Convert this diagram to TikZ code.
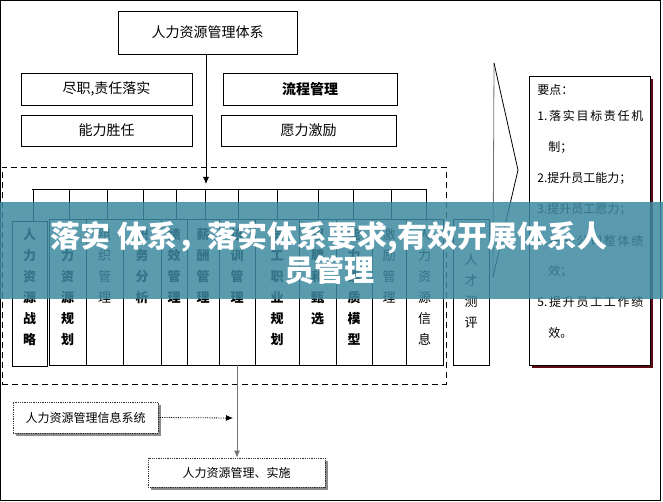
\documentclass[tikz,border=0pt]{standalone}
\usepackage{fontspec}
\setmainfont{Noto Sans CJK SC}
\usetikzlibrary{arrows.meta,shadows}
\definecolor{bannerc}{RGB}{62,137,160}
\definecolor{shadowred}{RGB}{95,10,20}
\newcommand\hrcol[7]{%
  \node[colbox, minimum width={(#3-#2)*1pt}, minimum height={(#5-#4)*1pt}] (#1) at ({(#2+#3)/2},{(#4+#5)/2}) {};
  \node[coltext,#7] (#1t) at ({(#2+#3)/2},228) {#6};}
\begin{document}
\begin{tikzpicture}[x=1pt,y=-1pt,line width=0.8pt,
  box/.style={draw, inner sep=0pt, font=\fontsize{14}{16}\selectfont},
  colbox/.style={draw, inner sep=0pt},
  coltext/.style={anchor=north, inner sep=0pt, align=center, font=\fontsize{13}{21}\selectfont},
  boldcol/.style={font=\bfseries\fontsize{13}{21}\selectfont},
  plaincol/.style={},
  dotbox/.style={draw=black!80, densely dotted, fill=white, inner sep=0pt, font=\fontsize{12}{14}\selectfont,
     drop shadow={shadow xshift=3pt, shadow yshift=-3pt, fill=black!45, opacity=1}},
  kptext/.style={anchor=west, inner sep=0pt, font=\fontsize{12}{14}\selectfont},
  arr/.style={-{Latex[length=7pt,width=6pt]}}]
\useasboundingbox (0,0) rectangle (663,502);
\draw (0.5,0.5) rectangle (660,500);
% top boxes
\node[box, minimum width=179pt, minimum height=43pt] (top) at (207.5,32.5) {人力资源管理体系};
\node[box, minimum width=171pt, minimum height=32pt] (b1) at (106.5,89) {尽职,责任落实};
\node[box, minimum width=171pt, minimum height=31pt] (b2) at (106.5,130.5) {能力胜任};
\node[box, minimum width=174pt, minimum height=32pt, font=\bfseries\fontsize{14}{16}\selectfont] (b3) at (310,89) {流程管理};
\node[box, minimum width=175pt, minimum height=31pt] (b4) at (308.5,130.5) {愿力激励};
% dashed frame
\node[draw, dash pattern=on 6pt off 4pt, minimum width=444pt, minimum height=217pt, inner sep=0pt] (frame) at (224,275.5) {};
% columns
\hrcol{c1}{12}{47}{221}{366}{人\\力\\资\\源\\战\\略}{boldcol}
\hrcol{c2}{49}{86}{219}{365}{人\\力\\资\\源\\规\\划}{boldcol}
\hrcol{c3}{86}{123}{219}{365}{组\\织\\管\\理}{plaincol}
\hrcol{c4}{123}{161}{219}{365}{职\\务\\分\\析}{boldcol}
\hrcol{c5}{161}{187}{219}{365}{绩\\效\\管\\理}{boldcol}
\hrcol{c6}{187}{219}{219}{365}{薪\\酬\\管\\理}{boldcol}
\hrcol{c7}{219}{255}{219}{365}{培\\训\\管\\理}{boldcol}
\hrcol{c8}{255}{299}{219}{365}{员\\工\\职\\业\\规\\划}{boldcol}
\hrcol{c9}{299}{336}{219}{365}{招\\聘\\和\\甄\\选}{boldcol}
\hrcol{c10}{336}{372}{219}{365}{能\\力\\素\\质\\模\\型}{boldcol}
\hrcol{c11}{372}{406}{219}{365}{激\\励\\管\\理}{plaincol}
\hrcol{c12}{406}{443}{219}{365}{人\\力\\资\\源\\信\\息}{plaincol}
\hrcol{c13}{453}{489}{219}{365}{\strut\\人\\才\\测\\评}{plaincol}
% bus
\coordinate (busL) at (32,189);
\coordinate (busR) at (427,189);
\draw (busL) -- (busR);
\foreach \c/\x in {c1/33,c2/69,c3/107,c4/143,c5/176,c6/205,c7/238,c8/277,c9/318,c10/353,c11/391,c12/426}
  \draw (\x,189) -- (\x,219 |- \c.north);
\coordinate (busarrow) at (206,184);
\draw[arr] (top.south -| busarrow) -- (busarrow);
% chevron
\draw[black!55] (494,63) -- (493,277);
\draw (494,63) -- (518,170) -- (493,277);
% key points box
\fill[shadowred] (532,79) rectangle (653,368);
\node[draw, fill=white, minimum width=121pt, minimum height=289pt, inner sep=0pt] (kp) at (589.5,220.5) {};
\node[kptext] (k0) at (537,90) {要点：};
\node[kptext] (k1) at (537,116) {\makebox[106pt][s]{1.\hfill 落\hfill 实\hfill 目\hfill 标\hfill 责\hfill 任\hfill 机}};
\node[kptext] (k1b) at (548,147) {制；};
\node[kptext] (k2) at (537,178) {2.提升员工能力；};
\node[kptext] (k3) at (537,209) {3.提升员工愿力；};
\node[kptext] (k4) at (537,241) {\makebox[106pt][s]{4.\hfill 提\hfill 升\hfill 公\hfill 司\hfill 整\hfill 体\hfill 绩}};
\node[kptext] (k4b) at (548,271) {效；};
\node[kptext] (k5) at (537,302) {\makebox[106pt][s]{5.\hfill 提\hfill 升\hfill 员\hfill 工\hfill 工\hfill 作\hfill 绩}};
\node[kptext] (k5b) at (548,333) {效。};
% bottom
\node[dotbox, minimum width=145pt, minimum height=31pt] (info) at (85.5,417.5) {人力资源管理信息系统};
\node[dotbox, minimum width=177pt, minimum height=29pt] (impl) at (236.5,472.5) {人力资源管理、实施};
\coordinate (jn) at (233,418);
\draw[black!55, arr] (c7.south) -- (c7.south |- impl.north);
\draw[densely dotted, arr] (info.east) -- (jn);
% banner
\fill[bannerc, opacity=0.85] (0,202) rectangle (663,299);
\node[text=white, inner sep=0pt, align=center, font=\bfseries\fontsize{30}{34}\selectfont] (banner) at (329,253) {落实 体系，落实体系要求,有效开展体系人\\员管理};
\end{tikzpicture}
\end{document}
